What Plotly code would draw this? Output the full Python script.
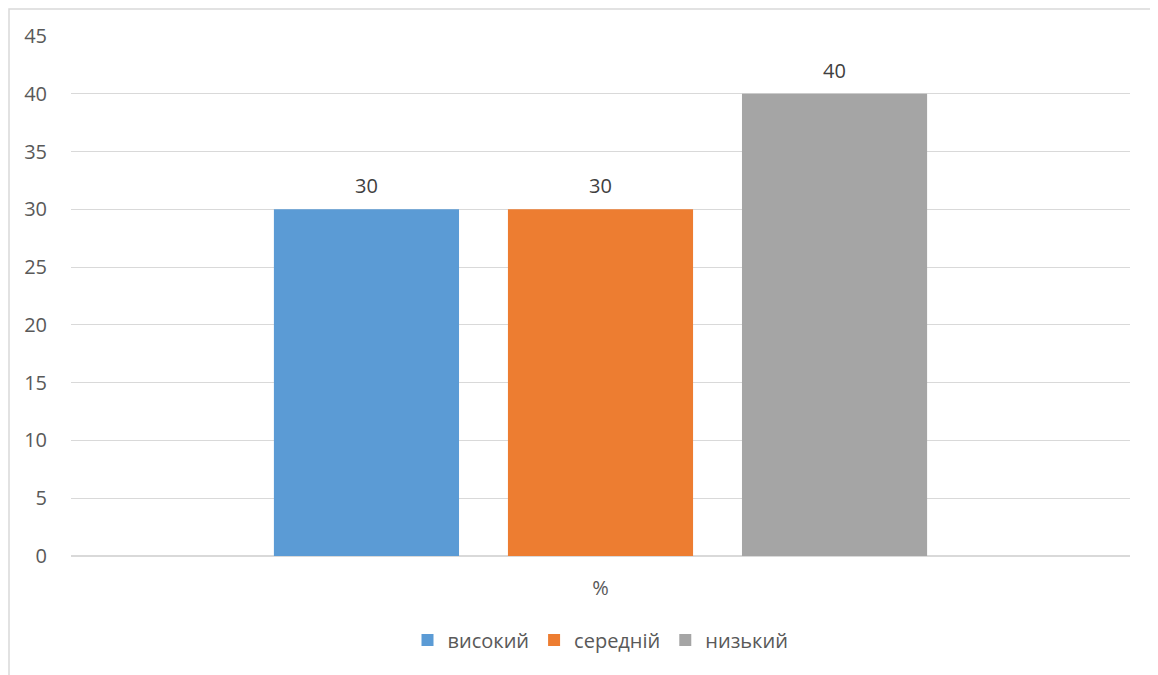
import plotly.graph_objects as go

categories = ["%"]
series_names = ["високий", "середній", "низький"]
series_values = [[30], [30], [40]]
series_colors = ["#5B9BD5", "#ED7D31", "#A5A5A5"]
y_ticks = [0, 5, 10, 15, 20, 25, 30, 35, 40, 45]

OFF = 8  # page offset of the figure in the screenshot
W, H = 1158, 675
L, T = 71 - OFF, 36 - OFF
pw, ph = 1059, 520
R = W - L - pw
B = H - T - ph

def px_x(p):
    return (p - OFF - L) / pw

def px_y(p):
    return (T + ph - (p - OFF)) / ph

BARGAP = 0.337
BARGROUPGAP = 0.209

fig = go.Figure()
for name, vals, col in zip(series_names, series_values, series_colors):
    fig.add_trace(go.Bar(
        x=categories, y=vals, name=name, marker=dict(color=col, line=dict(width=0)),
    ))

n = len(series_names)
slot = (1 - BARGAP) / n
annotations = []
for i, vals in enumerate(series_values):
    for j, v in enumerate(vals):
        annotations.append(dict(
            x=j - (1 - BARGAP) / 2 + slot * (i + 0.5), y=v, xref="x", yref="y",
            text=str(v), showarrow=False, yanchor="bottom", yshift=8,
            font=dict(size=20, color="#404040", family="Open Sans"),
        ))

fig.update_layout(
    width=W, height=H,
    margin=dict(l=L, r=R, t=T, b=B, pad=0),
    paper_bgcolor="white", plot_bgcolor="white",
    barmode="group", bargap=BARGAP, bargroupgap=BARGROUPGAP,
    font=dict(family="Open Sans", size=20, color="#595959"),
    showlegend=True,
    legend=dict(orientation="h", x=0.5, xanchor="center", y=px_y(640), yanchor="middle",
                font=dict(size=20, color="#595959"), itemwidth=30, traceorder="normal"),
    xaxis=dict(showgrid=False, showline=True, linecolor="#d9d9d9", linewidth=1,
               ticks="", ticklabelstandoff=14, tickfont=dict(size=20, color="#595959")),
    yaxis=dict(range=[0, 45], tickvals=y_ticks, showgrid=True, gridcolor="#d9d9d9",
               gridwidth=1, zeroline=True, zerolinecolor="#d9d9d9", ticks="",
               ticklabelstandoff=23, tickfont=dict(size=20, color="#595959")),
    annotations=annotations,
    shapes=[dict(type="rect", xref="paper", yref="paper",
                 x0=px_x(9), x1=px_x(1157), y0=px_y(700), y1=px_y(9),
                 line=dict(color="#d9d9d9", width=1.5), fillcolor="rgba(0,0,0,0)", layer="below")],
)

fig.write_html("out.html")
